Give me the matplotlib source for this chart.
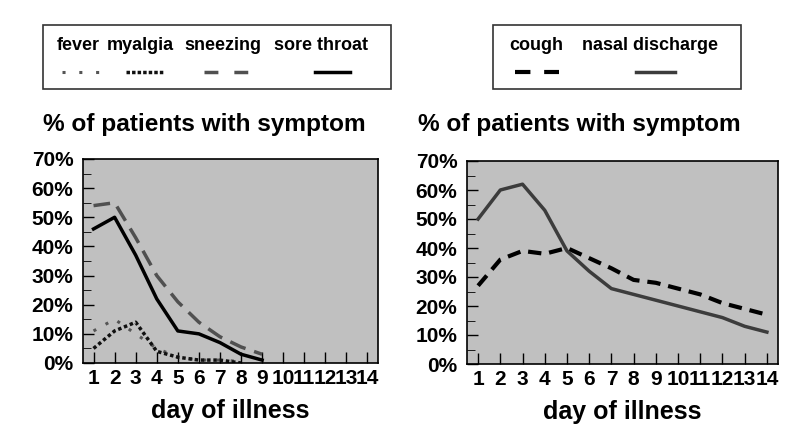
import numpy as np
import matplotlib.pyplot as plt
from matplotlib.lines import Line2D
from matplotlib.patches import Rectangle
from matplotlib.ticker import MultipleLocator, FuncFormatter

plt.rcParams['font.family'] = ['Liberation Sans', 'DejaVu Sans']
plt.rcParams['font.weight'] = 'bold'

# Data (percent of patients with symptom, by day of illness)
days = np.arange(1, 15)
sore_days = [1, 2, 3, 4, 5, 6, 7, 8, 9]
sore_throat = [46, 50, 37, 22, 11, 10, 7, 3, 1]
sneeze_days = [1, 2, 3, 4, 5, 6, 7, 8, 9]
sneezing = [54, 55, 43, 30, 21, 14, 9, 5.5, 3]
fever_days = [1, 2, 3, 4, 5, 6, 7, 8]
fever = [11, 15, 10, 5, 2, 1, 1, 0.5]
myalgia_days = [1, 2, 3, 4, 5, 6, 7, 8]
myalgia = [5, 11, 14, 4, 2, 1, 1, 0]

cough = [27, 36, 39, 38, 40, 36.5, 33, 29, 28, 26, 24, 21, 19, 17]
nasal = [50, 60, 62, 53, 39, 32, 26, 24, 22, 20, 18, 16, 13, 11]

bg = '#c0c0c0'
styles = {
    'fever': dict(color='#555555', lw=2.2, ls=(0, (1, 3.5))),
    'myalgia': dict(color='#111111', lw=2.5, ls=(0, (1, 0.8))),
    'sneezing': dict(color='#505050', lw=2.5, ls=(0, (4.8, 2.6))),
    'sore throat': dict(color='black', lw=2.5, ls='-'),
    'cough': dict(color='black', lw=3, ls=(0, (3.2, 1.9))),
    'nasal discharge': dict(color='#3c3c3c', lw=2.5, ls='-'),
}
# dash patterns for the small legend samples
legend_ls = {
    'fever': (0, (1, 4.5)),
    'myalgia': (0, (1, 0.6)),
    'sneezing': (0, (4, 4.6)),
    'sore throat': '-',
    'cough': (0, (3.7, 3.3)),
    'nasal discharge': '-',
}

fig = plt.figure(figsize=(8, 4.33), dpi=100)
W, H = 800, 433


def px_axes(x0, y0, x1, y1):
    return fig.add_axes([x0 / W, 1 - y1 / H, (x1 - x0) / W, (y1 - y0) / H])


def style_axes(ax):
    ax.set_facecolor(bg)
    ax.set_xlim(0.5, 14.5)
    ax.set_ylim(0, 70)
    ax.set_xticks(days)
    ax.yaxis.set_major_locator(MultipleLocator(10))
    ax.yaxis.set_minor_locator(MultipleLocator(5))
    ax.yaxis.set_major_formatter(FuncFormatter(lambda v, p: f'{int(v)}%'))
    ax.tick_params(axis='both', direction='in', labelsize=15, width=1)
    ax.tick_params(axis='x', length=8, pad=4)
    ax.tick_params(axis='y', length=8, pad=7)
    ax.tick_params(axis='y', which='minor', direction='in', length=6)
    for lab in ax.get_xticklabels() + ax.get_yticklabels():
        lab.set_fontweight('bold')
    for s in ax.spines.values():
        s.set_linewidth(1.2)
    ax.set_xlabel('day of illness', fontsize=18, fontweight='bold', labelpad=8)


ax1 = px_axes(83, 159, 378, 363)
ax1.plot(fever_days, fever, **styles['fever'])
ax1.plot(myalgia_days, myalgia, **styles['myalgia'])
ax1.plot(sneeze_days, sneezing, **styles['sneezing'])
ax1.plot(sore_days, sore_throat, **styles['sore throat'])
style_axes(ax1)

ax2 = px_axes(467, 161, 778, 364)
ax2.plot(days, cough, **styles['cough'])
ax2.plot(days, nasal, **styles['nasal discharge'])
style_axes(ax2)

fig.text(43 / W, 1 - 124 / H, '% of patients with symptom', fontsize=17.6,
         fontweight='bold', va='center', ha='left')
fig.text(418 / W, 1 - 124 / H, '% of patients with symptom', fontsize=17.6,
         fontweight='bold', va='center', ha='left')


def legend_box(x0, x1, items):
    fig.add_artist(Rectangle((x0 / W, 1 - 89 / H), (x1 - x0) / W, 64 / H,
                             transform=fig.transFigure, fill=False,
                             edgecolor='#333333', lw=1.2))
    for name, tx, lx0, lx1 in items:
        fig.text(tx / W, 1 - 46 / H, name, fontsize=13, fontweight='bold',
                 ha='left', va='center')
        st = styles[name]
        fig.add_artist(Line2D([lx0 / W, lx1 / W], [1 - 72 / H, 1 - 72 / H],
                              transform=fig.transFigure, color=st['color'],
                              lw=st['lw'], ls=legend_ls[name]))


legend_box(43, 391, [('fever', 57, 62, 99), ('myalgia', 107, 126, 163),
                     ('sneezing', 184, 204, 248), ('sore throat', 274, 315, 350)])
legend_box(493, 741, [('cough', 509, 515, 559), ('nasal discharge', 582, 636, 675)])

fig.savefig('out.png', dpi=100)
